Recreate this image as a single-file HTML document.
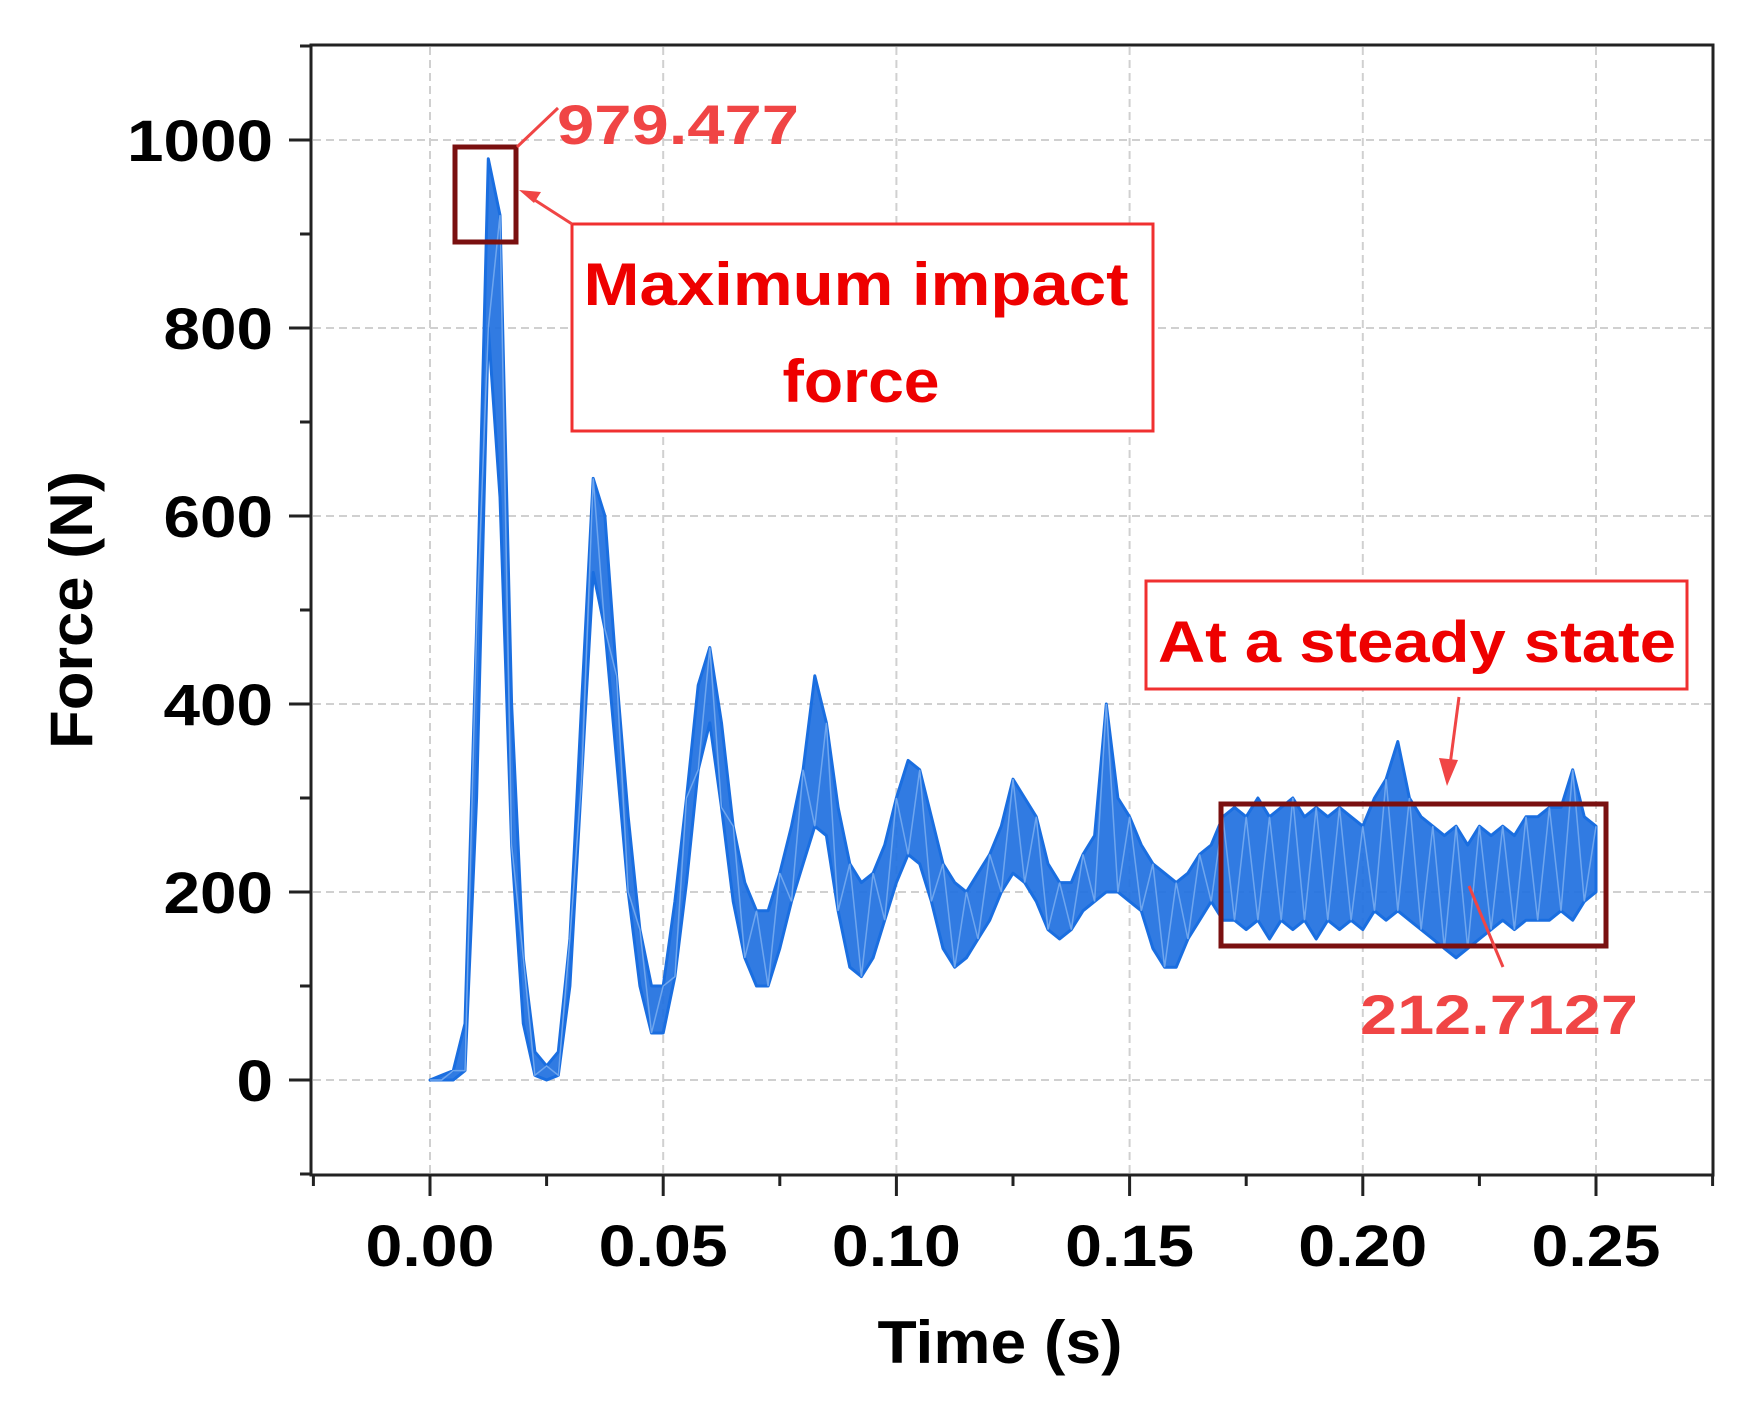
<!DOCTYPE html>
<html><head><meta charset="utf-8"><style>
html,body{margin:0;padding:0;background:#fff}
svg{display:block}
text{font-family:"Liberation Sans",sans-serif;font-weight:bold}
</style></head><body>
<svg id="chart" width="1750" height="1407" viewBox="0 0 1750 1407" xmlns="http://www.w3.org/2000/svg">
<g id="grid"></g>
<g id="series"></g>
<rect x="311" y="45" width="1402" height="1130" fill="none" stroke="#222" stroke-width="3"/>
<g id="axes"></g>
<text x="1000" y="1363" text-anchor="middle" font-size="60" textLength="245" lengthAdjust="spacingAndGlyphs">Time (s)</text>
<text transform="translate(92,610) rotate(-90)" text-anchor="middle" font-size="60" textLength="278" lengthAdjust="spacingAndGlyphs">Force (N)</text>
<g>
<rect x="455" y="147" width="61" height="95" fill="none" stroke="#7a1010" stroke-width="5"/>
<line x1="517" y1="147" x2="558" y2="108" stroke="#f04545" stroke-width="3"/>
<text x="557" y="144" font-size="56" fill="#f04545" textLength="242" lengthAdjust="spacingAndGlyphs">979.477</text>
<rect x="572" y="224" width="581" height="207" fill="#fff" stroke="#f03030" stroke-width="3"/>
<line x1="572" y1="224" x2="530" y2="197" stroke="#f04545" stroke-width="3"/>
<polygon points="519,190 541,192 534,203" fill="#f04545"/>
<text x="856" y="305" text-anchor="middle" font-size="60" fill="#ee0000" textLength="545" lengthAdjust="spacingAndGlyphs">Maximum impact</text>
<text x="861" y="402" text-anchor="middle" font-size="60" fill="#ee0000" textLength="157" lengthAdjust="spacingAndGlyphs">force</text>
</g>
<g>
<rect x="1146" y="581" width="541" height="108" fill="#fff" stroke="#f03030" stroke-width="3"/>
<text x="1417" y="662" text-anchor="middle" font-size="58" fill="#ee0000" textLength="518" lengthAdjust="spacingAndGlyphs">At a steady state</text>
<line x1="1459" y1="697" x2="1450" y2="765" stroke="#f04545" stroke-width="3"/>
<polygon points="1447,786 1439,758 1458,760" fill="#f04545"/>
<rect x="1221" y="804" width="385" height="142" fill="none" stroke="#7a1010" stroke-width="5"/>
<line x1="1469" y1="886" x2="1503" y2="967" stroke="#f04545" stroke-width="3"/>
<text x="1360" y="1034" font-size="56" fill="#f04545" textLength="278" lengthAdjust="spacingAndGlyphs">212.7127</text>
</g>
</svg>
<script>
const timeValues = [0,0.0025,0.005,0.0075,0.01,0.0125,0.015,0.0175,0.02,0.0225,0.025,0.0275,0.03,0.0325,0.035,0.0375,0.04,0.0425,0.045,0.0475,0.05,0.0525,0.055,0.0575,0.06,0.0625,0.065,0.0675,0.07,0.0725,0.075,0.0775,0.08,0.0825,0.085,0.0875,0.09,0.0925,0.095,0.0975,0.1,0.1025,0.105,0.1075,0.11,0.1125,0.115,0.1175,0.12,0.1225,0.125,0.1275,0.13,0.1325,0.135,0.1375,0.14,0.1425,0.145,0.1475,0.15,0.1525,0.155,0.1575,0.16,0.1625,0.165,0.1675,0.17,0.1725,0.175,0.1775,0.18,0.1825,0.185,0.1875,0.19,0.1925,0.195,0.1975,0.2,0.2025,0.205,0.2075,0.21,0.2125,0.215,0.2175,0.22,0.2225,0.225,0.2275,0.23,0.2325,0.235,0.2375,0.24,0.2425,0.245,0.2475,0.25];
const forceUpper = [0,5,10,60,480,980,920,400,130,30,15,30,150,400,640,600,430,280,160,100,100,190,300,420,460,380,270,210,180,180,220,270,330,430,380,290,230,210,220,250,300,340,330,280,230,210,200,220,240,270,320,300,280,230,210,210,240,260,400,300,280,250,230,220,210,220,240,250,280,290,280,300,280,290,300,280,290,280,290,280,270,300,320,360,300,280,270,260,270,250,270,260,270,260,280,280,290,290,330,280,270];
const forceLower = [0,0,0,10,300,800,620,250,60,5,0,5,100,320,540,480,340,200,100,50,50,110,210,330,380,290,190,130,100,100,140,190,230,270,260,180,120,110,130,170,210,240,230,190,140,120,130,150,170,200,220,210,190,160,150,160,180,190,200,200,190,180,140,120,120,150,170,190,170,170,160,170,150,170,160,170,150,170,160,170,160,180,170,180,170,160,150,140,130,140,150,160,170,160,170,170,170,180,170,190,200];
const xTicks = [0,0.05,0.1,0.15,0.2,0.25];
const xTickLabels = ["0.00","0.05","0.10","0.15","0.20","0.25"];
const yTicks = [0,200,400,600,800,1000];
const yTickLabels = ["0","200","400","600","800","1000"];

const NS = "http://www.w3.org/2000/svg";
const X0 = 430, XPX = 4664;
const Y0 = 1080, YPX = 0.94;
function xs(t){ return X0 + t * XPX; }
function ys(f){ return Y0 - f * YPX; }
function mk(tag, attrs, parent){ const e = document.createElementNS(NS, tag); for (const k in attrs) e.setAttribute(k, attrs[k]); parent.appendChild(e); return e; }

const grid = document.getElementById('grid');
const axes = document.getElementById('axes');
const series = document.getElementById('series');

xTicks.forEach((t, i) => {
  const g = mk('line', {x1: xs(t), x2: xs(t), y1: 47, y2: 1173, stroke: '#d0d0d0', 'stroke-width': 2, 'stroke-dasharray': '8 5'}, grid);
  
  
  const tk = mk('line', {x1: xs(t), x2: xs(t), y1: 1175, y2: 1196, stroke: '#222', 'stroke-width': 3}, axes);
  
  
  const lb = mk('text', {x: xs(t), y: 1266, 'text-anchor': 'middle', 'font-size': 58, textLength: 129, lengthAdjust: 'spacingAndGlyphs'}, axes);
  lb.textContent = xTickLabels[i];
  
  
});
[-0.025,0.025,0.075,0.125,0.175,0.225,0.275].forEach(t => {
  const tk = mk('line', {x1: xs(t), x2: xs(t), y1: 1175, y2: 1186, stroke: '#222', 'stroke-width': 3}, axes);
  
  
});
yTicks.forEach((f, i) => {
  const g = mk('line', {x1: 313, x2: 1711, y1: ys(f), y2: ys(f), stroke: '#d0d0d0', 'stroke-width': 2, 'stroke-dasharray': '8 5'}, grid);
  
  
  const tk = mk('line', {x1: 289, x2: 311, y1: ys(f), y2: ys(f), stroke: '#222', 'stroke-width': 3}, axes);
  
  
  const lb = mk('text', {x: 273, y: ys(f) + 21, 'text-anchor': 'end', 'font-size': 58, textLength: yTickLabels[i].length * 36.5, lengthAdjust: 'spacingAndGlyphs'}, axes);
  lb.textContent = yTickLabels[i];
  
  
});
[-100,100,300,500,700,900,1100].forEach(f => {
  const tk = mk('line', {x1: 300, x2: 311, y1: ys(f), y2: ys(f), stroke: '#222', 'stroke-width': 3}, axes);
  
  
});

let d = '';
timeValues.forEach((t, i) => { d += (i ? 'L' : 'M') + xs(t).toFixed(1) + ',' + ys(forceUpper[i]).toFixed(1); });
for (let i = timeValues.length - 1; i >= 0; i--) d += 'L' + xs(timeValues[i]).toFixed(1) + ',' + ys(forceLower[i]).toFixed(1);
d += 'Z';
const band = mk('path', {d: d, fill: '#1f70e0', 'fill-opacity': 0.92, stroke: '#1a6ee0', 'stroke-width': 3, 'stroke-linejoin': 'round'}, series);


let z = '';
timeValues.forEach((t, i) => {
  const v = (i % 2 === 0) ? forceUpper[i] : forceLower[i];
  z += (i ? 'L' : 'M') + xs(t).toFixed(1) + ',' + ys(v).toFixed(1);
});
const trace = mk('path', {d: z, fill: 'none', stroke: '#6fa6ee', 'stroke-width': 1.5}, series);


</script>
</body></html>
